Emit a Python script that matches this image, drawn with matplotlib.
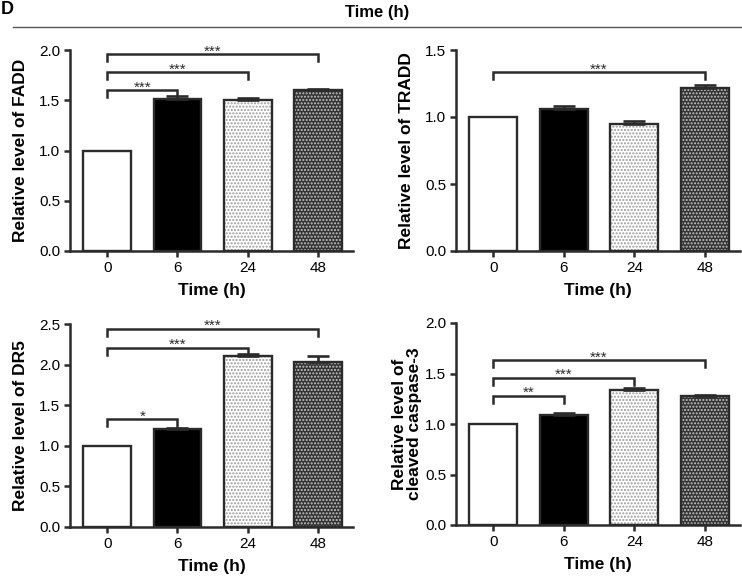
import numpy as np
import matplotlib
matplotlib.use("Agg")
import matplotlib.pyplot as plt

plt.rcParams['font.family'] = ['Liberation Sans', 'DejaVu Sans']

# ---- data ----
times = ['0', '6', '24', '48']

fadd_mean = [1.0, 1.51, 1.50, 1.60]
fadd_err = [0.0, 0.03, 0.02, 0.01]

tradd_mean = [1.0, 1.06, 0.95, 1.22]
tradd_err = [0.0, 0.02, 0.017, 0.02]

dr5_mean = [1.0, 1.21, 2.10, 2.03]
dr5_err = [0.0, 0.005, 0.03, 0.08]

casp_mean = [1.0, 1.09, 1.34, 1.28]
casp_err = [0.0, 0.02, 0.02, 0.01]

# (from index, to index, bracket height, label)
fadd_sig = [(0, 1, 1.60, '***'), (0, 2, 1.78, '***'), (0, 3, 1.96, '***')]
tradd_sig = [(0, 3, 1.335, '***')]
dr5_sig = [(0, 1, 1.33, '*'), (0, 2, 2.21, '***'), (0, 3, 2.44, '***')]
casp_sig = [(0, 1, 1.28, '**'), (0, 2, 1.46, '***'), (0, 3, 1.63, '***')]

dark = '#2b2b2b'


def panel(ax, mean, err, sig, ymax, ystep, ylabel, ylab_x):
    x = np.arange(len(times))
    w = 0.68
    # fills
    ax.bar(x[0], mean[0], w, color='white', linewidth=0, zorder=2)
    ax.bar(x[1], mean[1], w, color='black', linewidth=0, zorder=2)
    ax.bar(x[2], mean[2], w, color='white', edgecolor='#9a9a9a', hatch='.....',
           linewidth=0, zorder=2)
    ax.bar(x[3], mean[3], w, color='#333333', edgecolor='#c4c4c4', hatch='.....',
           linewidth=0, zorder=2)
    # outlines
    ax.bar(x, mean, w, fill=False, edgecolor=dark, linewidth=1.7, zorder=3)
    ax.errorbar(x[1:], mean[1:], yerr=[np.zeros(3), err[1:]], fmt='none',
                ecolor=dark, elinewidth=1.9, capsize=8, capthick=1.9, zorder=4)

    leg = ymax * 0.035
    for a, b, h, lab in sig:
        ax.plot([a, a, b, b], [h - leg, h, h, h - leg], color=dark, lw=1.8,
                solid_joinstyle='miter', clip_on=False, zorder=5)
        ax.annotate(lab, xy=((a + b) / 2, h), xytext=(0, -1),
                    textcoords='offset points', ha='center', va='baseline',
                    fontsize=11, color=dark, annotation_clip=False)

    ax.set_xlim(-0.53, 3.5)
    ax.set_ylim(0, ymax)
    ticks = np.arange(0, ymax + 1e-9, ystep)
    ax.set_yticks(ticks)
    ax.set_yticklabels(['%.1f' % v for v in ticks])
    ax.set_xticks(x)
    ax.set_xticklabels(times)
    for s in ['top', 'right']:
        ax.spines[s].set_visible(False)
    for s in ['left', 'bottom']:
        ax.spines[s].set_linewidth(1.8)
        ax.spines[s].set_color(dark)
    ax.tick_params(axis='both', labelsize=11, width=1.8, length=4, color=dark,
                   pad=3)
    ax.set_xlabel('Time (h)', fontsize=12.5, fontweight='bold', labelpad=6)
    ax.set_ylabel(ylabel, fontsize=12.5, fontweight='bold', linespacing=1.05)
    ax.yaxis.set_label_coords(ylab_x, 0.5)


fig = plt.figure(figsize=(7.42, 5.76), dpi=100)
W, H = 742.0, 576.0

ax1 = fig.add_axes([70 / W, 1 - 251 / H, 283 / W, 201 / H])
ax2 = fig.add_axes([456 / W, 1 - 251 / H, 284 / W, 201 / H])
ax3 = fig.add_axes([70 / W, 1 - 527 / H, 283 / W, 203 / H])
ax4 = fig.add_axes([456 / W, 1 - 525 / H, 284 / W, 202 / H])

panel(ax1, fadd_mean, fadd_err, fadd_sig, 2.0, 0.5, 'Relative level of FADD', -0.147)
panel(ax2, tradd_mean, tradd_err, tradd_sig, 1.5, 0.5, 'Relative level of TRADD', -0.147)
panel(ax3, dr5_mean, dr5_err, dr5_sig, 2.5, 0.5, 'Relative level of DR5', -0.147)
panel(ax4, casp_mean, casp_err, casp_sig, 2.0, 0.5,
      'Relative level of\ncleaved caspase-3', -0.118)

# header
fig.text(1 / W, 1 - 10 / H, 'D', fontsize=13, fontweight='bold', va='center',
         ha='left')
fig.text(377 / W, 1 - 12 / H, 'Time (h)', fontsize=12, fontweight='bold',
         va='center', ha='center')
fig.add_artist(plt.Line2D([13 / W, 1.0], [1 - 27 / H, 1 - 27 / H],
                          color='#555555', lw=1.0))

fig.savefig('out.png', dpi=100)
